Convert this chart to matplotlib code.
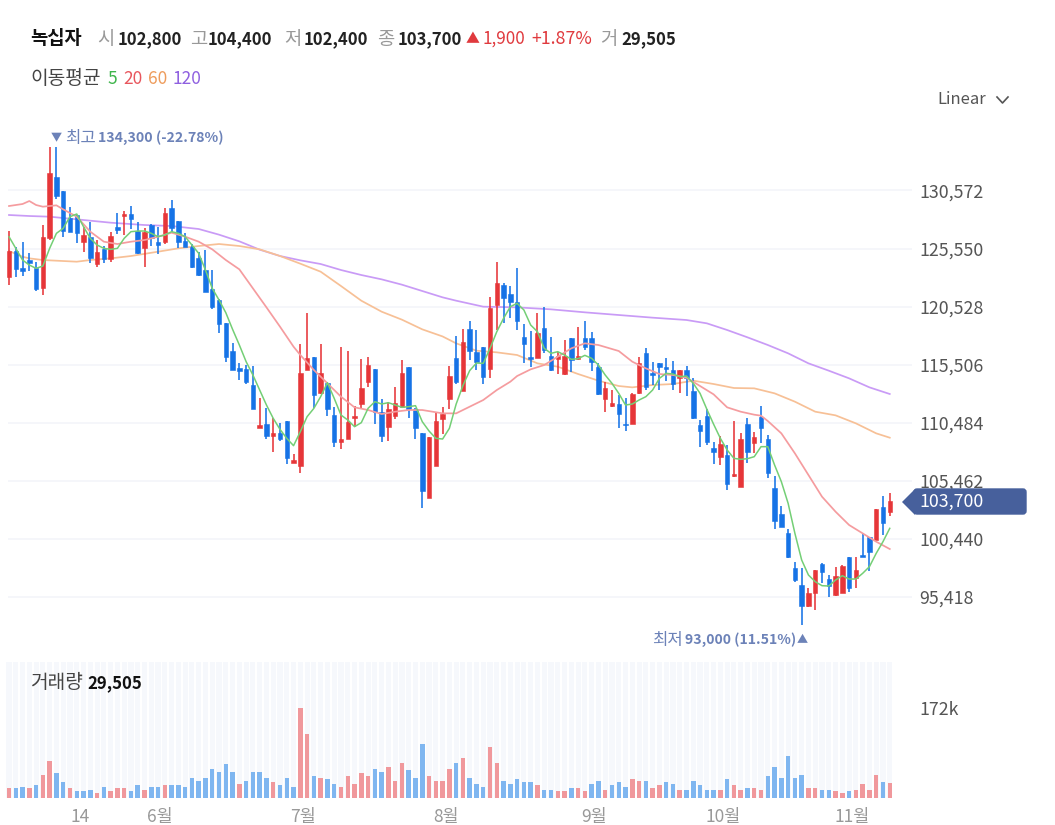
#차트 다시 그리기 (녹십자 일봉 + 이동평균 + 거래량)
import numpy as np
import matplotlib
matplotlib.use("Agg")
from matplotlib import pyplot as plt
from matplotlib.patches import FancyBboxPatch, Polygon

plt.rcParams['font.family'] = ['Noto Sans CJK KR', 'DejaVu Sans']

opens = [123120,125370,123900,124560,123840,122110,126430,131710,130530,128220,
         128450,126120,126520,124190,125480,124680,127410,128370,128570,127070,
         125630,127590,126120,126150,129090,127930,126230,125710,124700,123690,
         122080,121100,119140,116720,115190,115110,113780,110000,110410,109370,
         109630,110670,107000,106770,115050,116140,113090,113890,111160,108850,
         109080,110930,112080,114040,115110,111440,110150,111070,111880,115340,
         111650,109630,104010,106770,110810,112510,116110,113260,118570,116630,
         117010,115110,120670,122400,121590,120900,117930,116140,116110,118710,
         116260,116000,114670,117790,116000,117790,117790,115340,112510,111930,
         112080,110380,110350,113090,116490,114790,115680,115340,115050,114330,
         115050,113260,110260,111070,108270,107500,107700,105880,104960,110380,
         108710,110960,109080,104810,102570,100920,97900,96450,94670,95730,
         98270,96940,95590,95790,98850,97030,99050,100630,100350,103230,102800]
highs = [127100,125660,126120,125190,124420,127590,134300,134300,130530,129170,
         128450,127440,127880,126290,125770,127010,128600,128800,129230,127880,
         127300,127670,127440,129090,129720,127930,126870,125940,125280,125420,
         123690,121190,119140,117350,115680,115480,115390,112600,111790,110870,
         110490,110670,107780,117300,120010,116140,117300,114040,111880,117010,
         116720,111960,115970,116200,115110,112510,112250,113610,115880,115340,
         111730,109630,109220,111440,111880,115420,117990,118570,119320,118510,
         117010,121330,124390,122540,122310,123900,119000,118420,120010,120470,
         117870,116630,117640,117840,118800,119310,118310,115680,113980,113290,
         112890,112600,113090,116200,116980,115770,115680,116110,115830,115050,
         115390,114330,110720,111670,108850,109340,108560,110670,109570,110870,
         109660,111940,109430,105880,103290,101270,98470,97900,96170,97750,
         98330,97320,97980,98180,98850,98900,100980,100630,103000,104180,104400]
lows = [122400,123120,123180,123640,121910,121530,126290,129810,126520,127010,
        126060,125280,124330,123980,124330,124420,126810,126720,127210,125080,
        123930,125770,125080,125940,126870,125570,125660,123840,123200,121820,
        120320,118220,115710,115050,114180,113840,111680,110000,109050,107980,
        108910,106920,107000,106110,115050,111730,112940,111100,108420,108220,
        109080,110150,111790,113610,110380,108790,108910,110810,111730,110900,
        109080,103080,104010,106770,109480,111680,113810,113260,115910,115050,
        113840,114330,118510,119140,119520,118510,115620,115280,116110,116490,
        114990,114670,114620,114850,115910,116780,114990,112890,111390,111880,
        110000,109800,110350,112970,113320,113750,113320,114130,113320,113030,
        112830,110810,108420,108560,106920,106830,104670,105820,104900,107030,
        107900,108760,105680,101270,101440,98820,96740,93000,94520,94290,
        96600,95390,95500,95730,95880,96170,98850,97690,100350,100780,102400]
closes = [125340,123810,123640,124330,122050,126520,132110,130100,127070,127010,
          126870,126750,124700,125220,124680,126640,127150,128540,128110,125190,
          127010,126430,125890,128600,127300,126150,125710,123930,123260,121820,
          120520,119030,116140,115050,114960,113980,111680,110260,109340,109600,
          109080,107410,107240,114760,116110,112890,114820,111680,108850,109080,
          110520,111040,113520,115450,111390,109370,111680,112170,114820,111680,
          110000,104580,109220,110670,111240,114560,113980,117500,116690,115710,
          114410,120380,122600,121300,120900,119260,117270,116030,118280,116780,
          115050,116260,116260,115910,116260,117070,115770,112970,113520,112220,
          111210,110260,112970,115680,113550,114620,115340,115110,113840,115050,
          114330,110870,109770,108850,107930,108650,105190,106050,109080,107930,
          109280,110000,106110,101990,101440,98850,96890,94670,95730,97750,
          97610,96370,97260,98100,96170,97750,98850,99340,103000,101850,103700]

volumes = [19200,19200,21800,19200,25000,44800,71000,48000,30700,19200,13400,13400,16000,10200,21800,
           13400,19200,19200,13400,25000,16000,21800,21800,25000,25000,25000,21800,39000,33300,39000,
           56300,50600,65300,50600,27500,33300,50600,50600,39000,30700,25000,39000,21800,172000,122900,
           42200,39000,36500,27500,21800,42200,27500,48000,42200,56300,50600,59500,33300,67800,53800,
           39000,102400,42200,33300,33300,56300,
           67800,76800,39000,27500,21800,97300,67800,33300,27500,36500,30700,30700,25000,16000,16000,
           13400,13400,19200,19200,13400,27500,33300,16000,25000,30700,21800,36500,33300,33300,19200,
           25000,30700,27500,16000,16000,33300,25000,16000,16000,16000,36500,25000,16000,19200,19200,
           16000,42200,59500,39000,80000,39000,44800,19200,19200,16000,16000,13400,10200,13400,16000,
           27500,16000,44800,30700,29505]
vol_colors = "rbbrbrrbbrbbbrbrrrbbrbbrbbbbbbbbbbrbbbbrbbbrrbrbbrrrrrbbrrrbbbrrrr" \
             "brbbbrrbbbbbrbbrrbrrbbrbbbrrbrrbbrbbbbbrbrrbrrbbbbbbrrbbrrbrrrrbr"

ma5 = [126578,125568,124559,124127,123839,124040,125568,126866,127298,128307,
       128538,127442,126433,125857,125568,125482,125568,126433,127010,127068,
       127068,126866,126578,126722,127010,126866,126578,125857,125136,123694,
       122109,121102,120006,118565,117210,115768,114615,113318,112021,110867,
       109916,109138,108503,109714,111012,111732,112741,113952,112597,111156,
       110723,110147,110493,111732,112309,112107,112223,112021,111819,111877,
       111963,110579,109772,109138,109080,110002,112100,113700,115000,115650,
       115624,116921,118363,119516,120525,120813,120237,118939,118363,116921,
       116489,116633,116344,115970,116028,116316,116056,115480,114615,113894,
       113029,112020,112107,112452,112741,113317,114326,114759,114701,114470,
       114528,113894,113029,111660,110360,109139,108130,107409,107322,107380,
       107553,108418,108418,106832,105391,103517,100922,98616,97318,96741,
       96396,96367,96886,97260,96972,96972,97463,98039,99192,100201,101355]

ma20_x = [0,2,3,4,5,7,8,10,12,14,16,18,20,22,24,26,28,30,32,34,36,38,40,42,43,45,47,49,51,53,55,57,59,61,
          64,66,68,70,72,74,75,77,79,81,83,85,87,90,92,94,96,98,100,102,104,106,108,110,111,112,114,116,118,120,122,124,126,128,130]
ma20 = [129230,129403,129662,129316,129172,129288,128942,128307,127010,126145,125943,126145,126289,126578,126923,
        126578,126146,125483,124560,123753,122110,120467,118795,117065,116345,115048,113894,112741,111819,111588,
        111242,111444,111588,111588,111300,111299,111876,112452,113317,114038,114528,115105,115480,116200,116921,
        117354,117210,116691,115768,115191,114701,114615,114385,113664,112943,111819,111444,111184,111098,110637,
        109570,107840,105967,104093,102796,101643,100922,100201,99567]

ma60_x = [0,2,3,5,10,12,15,18,22,25,28,31,34,37,40,43,46,49,52,55,58,61,64,66,69,72,75,78,81,84,87,90,92,95,98,
          101,104,107,110,113,116,119,122,125,128,130]
ma60 = [125338,124848,124703,124559,124415,124559,124703,124905,125280,125570,125771,125944,125771,125483,124907,
        124243,123551,122312,121043,120092,119400,118564,117950,117354,116719,116575,116344,115624,115335,114701,
        114125,113663,113548,113750,113836,114125,113837,113491,113462,113030,112309,111444,111127,110435,109570,109195]

ma120_x = [0,3,6,10,15,20,24,28,31,34,37,40,43,46,49,52,55,58,61,64,66,70,75,80,85,90,95,100,103,106,109,112,115,118,121,124,127,130]
ma120 = [128452,128365,128307,128077,127788,127587,127500,127242,126752,126175,125454,124907,124532,124215,123696,
         123263,122888,122427,121879,121332,121043,120525,120467,120294,120035,119804,119574,119372,119084,118507,
         117873,117210,116489,115624,114990,114327,113548,112973]

price_ticks = [95418,100440,105462,110484,115506,120528,125550,130572]
price_labels = ["95,418","100,440","105,462","110,484","115,506","120,528","125,550","130,572"]
month_ticks = [10.5,22.3,43.4,64.5,86.3,105.4,124.5]
month_labels = ["14","6월","7월","8월","9월","10월","11월"]

RED = "#e63639"
BLUE = "#1673e6"
W, H = 1055, 825
xlim = ((5-9)/6.775, (912-9)/6.775)

fig = plt.figure(figsize=(W/100, H/100), dpi=100)

def box(l, t, r, b):
    return [l/W, 1-b/H, (r-l)/W, (b-t)/H]

#가격 차트
ax = fig.add_axes(box(5, 120, 912, 640))
ax.set_xlim(*xlim)
ax.set_ylim(147046-86.48*640, 147046-86.48*120)
x = np.arange(len(opens))
ax.hlines(price_ticks, -0.15, xlim[1], color="#f2f4f9", lw=1.1, zorder=1)
ax.plot(ma120_x, ma120, color="#c99bf6", lw=1.25, zorder=2)
ax.plot(ma60_x, ma60, color="#f7c096", lw=1.25, zorder=2)
colors = [RED if c >= o else BLUE for o, c in zip(opens, closes)]
ax.vlines(x, lows, highs, color=colors, lw=1.15, zorder=3)
bottoms = np.minimum(opens, closes)
heights = np.abs(np.array(closes)-np.array(opens))
ax.bar(x, heights, 0.66, bottom=bottoms, color=colors, edgecolor=colors, lw=0.4, zorder=3)
ax.plot(ma20_x, ma20, color="#f59c9f", lw=1.25, zorder=4)
ax.plot(x, ma5, color="#74cf76", lw=1.1, zorder=5)
for s in ax.spines.values():
    s.set_visible(False)
ax.set_xticks([])
ax.yaxis.tick_right()
ax.set_yticks(price_ticks)
ax.set_yticklabels(price_labels, fontsize=12.8, color="#555555")
ax.tick_params(axis="y", length=0, pad=5)

#거래량
ax2 = fig.add_axes(box(5, 662, 912, 798))
ax2.set_xlim(*xlim)
ax2.set_ylim(0, 136*172000/90)
ax2.bar(x, [136*172000/90]*len(x), 0.76, color="#f6f8fc", zorder=1)
bar_colors = ["#f0989c" if c == "r" else "#7fb6f0" for c in vol_colors]
ax2.bar(x, volumes, 0.66, color=bar_colors, zorder=2)
for s in ax2.spines.values():
    s.set_visible(False)
ax2.yaxis.tick_right()
ax2.set_yticks([172000])
ax2.set_yticklabels(["172k"], fontsize=12.8, color="#555555")
ax2.set_xticks(month_ticks)
ax2.set_xticklabels(month_labels, fontsize=12.5, color="#999999")
ax2.tick_params(axis="y", length=0, pad=5)
ax2.tick_params(axis="x", length=0, pad=7)

#글자, 라벨 (픽셀 좌표)
top = fig.add_axes([0, 0, 1, 1], facecolor="none", zorder=5)
top.set_xlim(0, W)
top.set_ylim(H, 0)
top.axis("off")

def t(px, py, s, color="#222222", size=12, weight="normal", ha="left"):
    top.text(px, py, s, color=color, fontsize=size, fontweight=weight, ha=ha, va="center")

GR = "#999999"
t(30, 39, "녹십자", "#111111", 13.5, "bold")
t(97, 39, "시", GR, 13.5)
t(118, 39, "102,800", weight="bold")
t(190, 39, "고", GR, 13.5)
t(208, 39, "104,400", weight="bold")
t(284, 39, "저", GR, 13.5)
t(304, 39, "102,400", weight="bold")
t(377, 39, "종", GR, 13.5)
t(398, 39, "103,700", weight="bold")
t(466, 39, "▲", "#e03a3e", 10)
t(483, 39, "1,900", "#e03a3e", 12.3)
t(531, 39, "+1.87%", "#e03a3e", 12.8)
t(600, 39, "거", GR, 13.5)
t(621, 39, "29,505", weight="bold")

t(30, 79, "이동평균", "#444444", 13.8)
t(107, 79, "5", "#3fb54c", 12.5)
t(123, 79, "20", "#e8565d", 12.5)
t(148, 79, "60", "#ee9c5c", 12.5)
t(173, 79, "120", "#8f60e0", 12.5)

t(937, 100, "Linear", "#555555", 12)
top.plot([997, 1002.5, 1008], [97, 103, 97], color="#555555", lw=1.2)

ANN = "#6c82b8"
t(51, 138, "▼", ANN, 8)
t(65, 138, "최고", ANN, 12)
t(98, 138, "134,300 (-22.78%)", ANN, 10.2, "bold")
t(652, 640, "최저", ANN, 12)
t(685, 640, "93,000 (11.51%)", ANN, 10.1, "bold")
t(797, 640, "▲", ANN, 8)

t(30, 683, "거래량", "#444444", 13.8)
t(87, 683, "29,505", "#111111", 12, "bold")

#현재가 라벨
top.add_patch(Polygon([[902, 502], [915, 489], [915, 515]], closed=True, color="#47609c", lw=0))
top.add_patch(FancyBboxPatch((914, 489), 112, 25, boxstyle="round,pad=0,rounding_size=3",
                             facecolor="#47609c", edgecolor="#47609c", lw=1))
t(919, 502, "103,700", "white", 12.8)

fig.savefig("out.png", dpi=100)
